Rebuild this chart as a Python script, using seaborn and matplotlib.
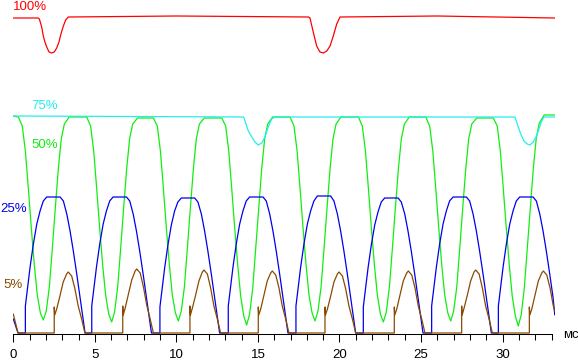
import pandas as pd
import matplotlib
matplotlib.use("Agg")
import matplotlib.pyplot as plt
import seaborn as sns
from matplotlib.ticker import MultipleLocator

# brightness traces, time in ms, level in relative units (baseline = 0)
red_t = [0.00, 1.52, 1.60, 1.74, 1.84, 1.94, 2.05, 2.19, 2.35, 2.51, 2.66, 2.80, 2.92, 3.07, 3.21, 3.37,
         10.0, 18.10, 18.19, 18.39, 18.60, 18.80, 19.01, 19.22, 19.42, 19.62, 19.83, 20.03, 26.0, 33.2]
red_v = [315, 315, 314, 306, 297, 291, 286, 281, 280, 281, 285, 291, 299, 307, 313, 316,
         317, 316, 315, 301, 287, 281, 280, 282, 287, 297, 309, 316, 317, 315]

cyan_t = [0.00, 14.12, 14.21, 14.41, 14.62, 14.82, 15.02, 15.23, 15.43, 15.63, 15.84, 16.04,
          30.76, 30.90, 31.11, 31.31, 31.51, 31.68, 31.88, 32.05, 32.21, 32.37, 32.54, 33.2]
cyan_v = [217, 216, 212, 202, 196, 191, 188, 190, 196, 206, 214, 216,
          216, 209, 199, 192, 189, 188, 191, 196, 203, 211, 216, 216]

green_t = [0.00,
           0.31, 0.55, 0.74, 0.92, 1.10, 1.29, 1.47, 1.66, 1.84, 2.02, 2.21, 2.39, 2.58, 2.76, 2.94, 3.13, 3.43,
           4.50, 4.74, 4.93, 5.11, 5.29, 5.48, 5.66, 5.85, 6.03, 6.21, 6.40, 6.58, 6.77, 6.95, 7.13, 7.32, 7.62,
           8.59, 8.83, 9.02, 9.20, 9.38, 9.57, 9.75, 9.94, 10.12, 10.30, 10.49, 10.67, 10.86, 11.04, 11.22, 11.41, 11.71,
           12.78, 13.02, 13.21, 13.39, 13.57, 13.76, 13.94, 14.13, 14.31, 14.49, 14.68, 14.86, 15.05, 15.23, 15.41, 15.60, 15.90,
           16.97, 17.21, 17.40, 17.58, 17.76, 17.95, 18.13, 18.32, 18.50, 18.68, 18.87, 19.05, 19.24, 19.42, 19.60, 19.79, 20.09,
           21.16, 21.40, 21.59, 21.77, 21.95, 22.14, 22.32, 22.51, 22.69, 22.87, 23.06, 23.24, 23.43, 23.61, 23.79, 23.98, 24.28,
           25.29, 25.53, 25.72, 25.90, 26.08, 26.27, 26.45, 26.64, 26.82, 27.00, 27.19, 27.37, 27.56, 27.74, 27.92, 28.11, 28.41,
           29.43, 29.67, 29.86, 30.04, 30.22, 30.41, 30.59, 30.78, 30.96, 31.14, 31.33, 31.51, 31.70, 31.88, 32.06, 32.25, 32.55,
           33.2]
green_v = [217,
           216, 207, 182, 145, 106, 68, 38, 20, 13, 22, 46, 84, 126, 164, 194, 209, 216,
           216, 207, 182, 145, 106, 68, 38, 19, 11, 21, 46, 84, 126, 164, 194, 209, 215,
           215, 207, 182, 145, 106, 68, 38, 20, 12, 22, 46, 84, 126, 164, 194, 209, 215,
           215, 207, 182, 145, 106, 68, 37, 17, 8, 19, 45, 84, 126, 164, 194, 209, 216,
           216, 207, 182, 145, 106, 68, 38, 20, 12, 22, 46, 84, 126, 164, 194, 209, 216,
           216, 207, 182, 145, 106, 68, 38, 19, 11, 21, 46, 84, 126, 164, 194, 209, 216,
           216, 207, 182, 145, 106, 68, 38, 20, 12, 22, 46, 84, 126, 164, 194, 209, 215,
           215, 207, 182, 145, 106, 68, 37, 17, 7, 18, 45, 84, 126, 164, 194, 210, 218,
           218]

blue_t = [0.00, 0.29,
          0.74, 0.74, 1.03, 1.23, 1.44, 1.64, 1.84, 2.05, 2.87, 3.07, 3.28, 3.48, 3.68, 3.89, 4.09, 4.30, 4.40,
          4.81, 4.81, 5.10, 5.30, 5.51, 5.71, 5.91, 6.12, 6.94, 7.14, 7.35, 7.55, 7.75, 7.96, 8.16, 8.37, 8.47,
          8.99, 8.99, 9.28, 9.48, 9.69, 9.89, 10.09, 10.30, 11.12, 11.32, 11.53, 11.73, 11.93, 12.14, 12.34, 12.55, 12.65,
          13.18, 13.18, 13.47, 13.67, 13.88, 14.08, 14.28, 14.49, 15.31, 15.51, 15.72, 15.92, 16.12, 16.33, 16.53, 16.74, 16.84,
          17.33, 17.33, 17.62, 17.82, 18.03, 18.23, 18.43, 18.64, 19.46, 19.66, 19.87, 20.07, 20.27, 20.48, 20.68, 20.89, 20.99,
          21.46, 21.46, 21.75, 21.95, 22.16, 22.36, 22.56, 22.77, 23.59, 23.79, 24.00, 24.20, 24.40, 24.61, 24.81, 25.02, 25.12,
          25.65, 25.65, 25.94, 26.14, 26.35, 26.55, 26.75, 26.96, 27.78, 27.98, 28.19, 28.39, 28.59, 28.80, 29.00, 29.21, 29.31,
          29.74, 29.74, 30.03, 30.23, 30.44, 30.64, 30.84, 31.05, 31.87, 32.07, 32.28, 32.48, 32.68, 32.89, 33.09, 33.2]
blue_v = [14, 0,
          0, 27, 66, 89, 109, 122, 132, 136, 136, 132, 119, 102, 82, 59, 36, 12, 0,
          0, 27, 66, 89, 109, 122, 132, 136, 136, 132, 119, 102, 82, 59, 36, 12, 0,
          0, 26, 65, 88, 108, 122, 131, 135, 135, 131, 119, 102, 82, 59, 36, 12, 0,
          0, 27, 66, 89, 109, 122, 132, 136, 136, 132, 119, 102, 82, 59, 36, 12, 0,
          0, 27, 66, 89, 109, 122, 132, 137, 137, 132, 119, 102, 82, 59, 36, 12, 0,
          0, 26, 65, 88, 108, 121, 131, 135, 135, 131, 119, 102, 82, 59, 36, 12, 0,
          0, 27, 66, 89, 109, 122, 132, 136, 136, 132, 119, 102, 82, 59, 36, 12, 0,
          0, 27, 66, 89, 109, 122, 132, 136, 136, 132, 119, 102, 82, 59, 36, 18]

brown_t = [0.00, 0.29,
           2.51, 2.51, 2.54, 2.66, 2.86, 3.06, 3.27, 3.37, 3.58, 3.78, 3.98, 4.19, 4.39,
           6.71, 6.71, 6.74, 6.86, 7.06, 7.26, 7.47, 7.57, 7.78, 7.98, 8.18, 8.39, 8.59,
           10.83, 10.83, 10.86, 10.98, 11.18, 11.38, 11.59, 11.69, 11.90, 12.10, 12.30, 12.51, 12.71,
           15.02, 15.02, 15.05, 15.17, 15.37, 15.57, 15.78, 15.88, 16.09, 16.29, 16.49, 16.70, 16.90,
           19.11, 19.11, 19.14, 19.26, 19.46, 19.66, 19.87, 19.97, 20.18, 20.38, 20.58, 20.79, 20.99,
           23.36, 23.36, 23.39, 23.51, 23.71, 23.91, 24.12, 24.22, 24.43, 24.63, 24.83, 25.04, 25.24,
           27.49, 27.49, 27.52, 27.64, 27.84, 28.04, 28.25, 28.35, 28.56, 28.76, 28.96, 29.17, 29.37,
           31.64, 31.64, 31.67, 31.79, 31.99, 32.19, 32.40, 32.50, 32.71, 32.91, 33.11, 33.2]
brown_v = [19, 0,
           0, 26, 18, 24, 37, 51, 59, 61, 57, 44, 27, 14, 0,
           0, 27, 18, 25, 39, 53, 62, 64, 60, 46, 28, 14, 0,
           0, 27, 18, 25, 38, 52, 61, 63, 59, 45, 27, 14, 0,
           0, 26, 18, 24, 38, 52, 60, 62, 58, 45, 27, 14, 0,
           0, 26, 18, 24, 37, 51, 59, 61, 57, 44, 27, 14, 0,
           0, 26, 18, 24, 38, 52, 60, 62, 58, 45, 27, 14, 0,
           0, 27, 18, 25, 38, 52, 61, 63, 59, 45, 27, 14, 0,
           0, 26, 18, 24, 38, 52, 60, 62, 58, 45, 27, 22]

trace_names = ["100%", "75%", "50%", "25%", "5%"]
trace_colors = ["#ff0000", "#22eeee", "#11ee11", "#0000ee", "#8a4a00"]
label_t = [-0.02, 1.09, 1.09, -0.82, -0.63]
label_lvl = [323, 224, 185, 121, 45]

# draw order: red, green, cyan, blue, brown
draw_order = ["100%", "50%", "75%", "25%", "5%"]
series = {"100%": (red_t, red_v), "75%": (cyan_t, cyan_v), "50%": (green_t, green_v),
          "25%": (blue_t, blue_v), "5%": (brown_t, brown_v)}

df = pd.concat([pd.DataFrame({"t": series[n][0], "level": series[n][1], "trace": n})
                for n in draw_order], ignore_index=True)

sns.set_style("ticks")
plt.rcParams['font.family'] = ['Liberation Sans', 'DejaVu Sans']

fig = plt.figure(figsize=(5.78, 3.61), dpi=100)
ax = fig.add_axes([13.3 / 578, 27 / 361, 33.2 * 16.31 / 578, 334 / 361])

palette = dict(zip(trace_names, trace_colors))
sns.lineplot(data=df, x="t", y="level", hue="trace", hue_order=draw_order, palette=palette,
             estimator=None, sort=False, legend=False, lw=0.9, ax=ax)

for name, col, tx, ly in zip(trace_names, trace_colors, label_t, label_lvl):
    ax.text(tx, ly, name, color=col, fontsize=9.5, ha="left", va="baseline")

ax.text(33.70, -5, "мс", color="black", fontsize=9.5, ha="left", va="baseline")

ax.set_xlim(0, 33.2)
ax.set_ylim(-1, 333)
ax.set_xlabel("")
ax.set_ylabel("")
ax.set_yticks([])
ax.xaxis.set_major_locator(MultipleLocator(5))
ax.xaxis.set_minor_locator(MultipleLocator(1))
ax.tick_params(axis="x", which="major", length=5.8, width=0.75, pad=5, labelsize=9.5,
               direction="out", color="black", labelcolor="black")
ax.tick_params(axis="x", which="minor", length=4.1, width=0.75, direction="out", color="black")
for s in ["left", "top", "right"]:
    ax.spines[s].set_visible(False)
ax.spines["bottom"].set_bounds(0, 33)
ax.spines["bottom"].set_linewidth(0.75)
ax.spines["bottom"].set_color("black")
ax.patch.set_alpha(0)

fig.savefig("out.png", dpi=100)
